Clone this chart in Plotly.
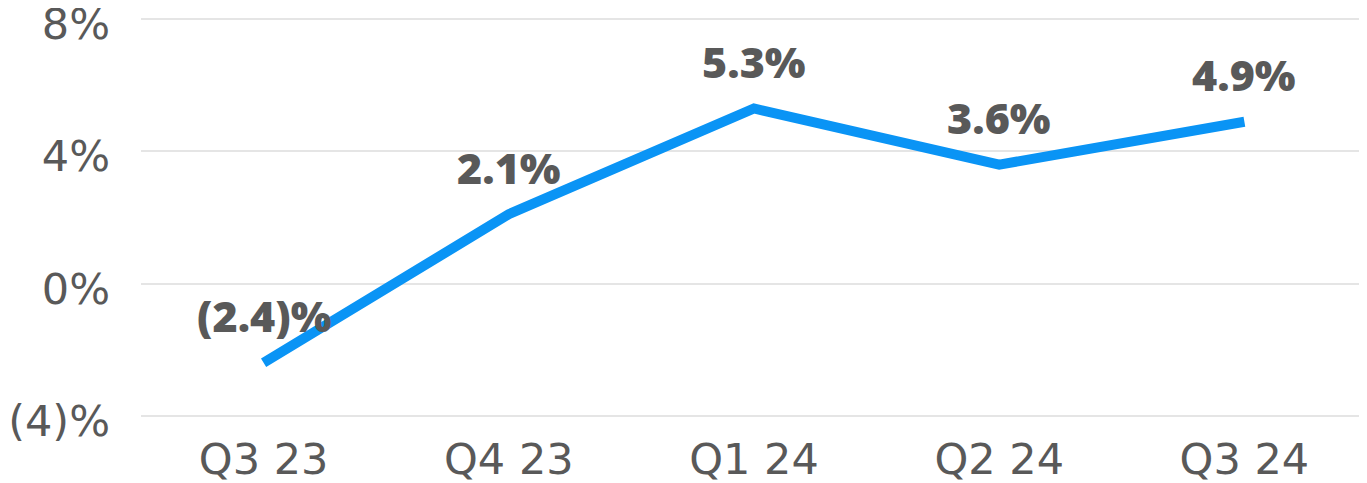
import plotly.graph_objects as go

quarters = ["Q3 23", "Q4 23", "Q1 24", "Q2 24", "Q3 24"]
growth = [-2.4, 2.1, 5.3, 3.6, 4.9]
labels = ["(2.4)%", "2.1%", "5.3%", "3.6%", "4.9%"]
y_ticks = [-4, 0, 4, 8]
y_tick_text = ["(4)%", "0%", "4%", "8%"]

fig = go.Figure()
fig.add_trace(go.Scatter(x=quarters, y=growth, mode="lines",
                         line=dict(color="#0a94f5", width=10),
                         hoverinfo="skip", showlegend=False))

for q, v, t in zip(quarters, growth, labels):
    fig.add_annotation(x=q, y=v, text=t, showarrow=False, yshift=47,
                       font=dict(family="Open Sans", size=43, color="#595959", weight=800))

# the page body has an 8px margin, so the figure is 8px smaller than the window
fig.update_layout(
    width=1359, height=475,
    margin=dict(l=133, r=0, t=8, b=64),
    plot_bgcolor="white", paper_bgcolor="white",
    font=dict(family="DejaVu Sans", color="#595959", size=43),
)
fig.update_xaxes(range=[-0.5, 4.5], showgrid=False, showline=False, zeroline=False,
                 ticks="", ticklabelstandoff=11, automargin=False, ticklabeloverflow="allow")
fig.update_yaxes(range=[-4.1, 8.1], tickvals=y_ticks, ticktext=y_tick_text,
                 showgrid=True, gridcolor="#e5e5e5", gridwidth=2,
                 zeroline=False, showline=False, ticks="", ticklabelstandoff=30,
                 ticklabelshift=5, automargin=False, ticklabeloverflow="allow")

fig.write_html("out.html")
